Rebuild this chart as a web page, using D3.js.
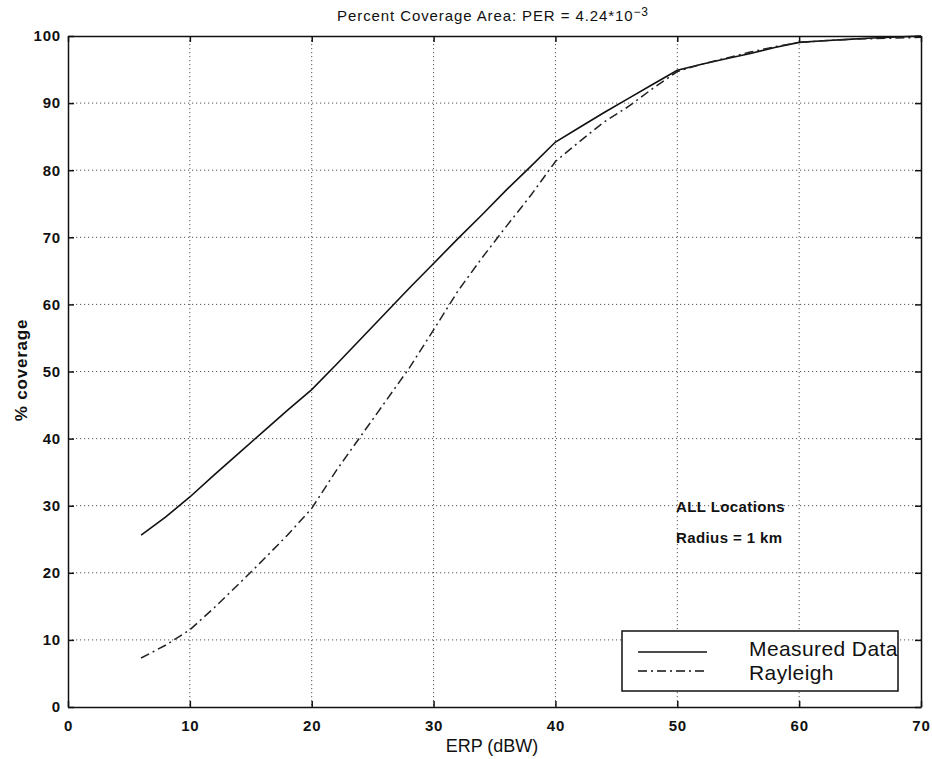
<!DOCTYPE html>
<html>
<head>
<meta charset="utf-8">
<script src="https://cdn.jsdelivr.net/npm/d3@7"></script>
<style>
  html, body { margin: 0; padding: 0; background: #fff; }
  svg { display: block; }
  text { font-family: "Liberation Sans", Arial, Helvetica, sans-serif; fill: #111; }
</style>
</head>
<body>
<svg id="chart" width="932" height="759"></svg>
<script>
// ERP (dBW) sample points and % coverage for each curve
const measuredErp = [6, 8, 10, 12, 14, 16, 18, 20, 22, 24, 26, 28, 30, 32, 34, 36, 38, 40, 42, 44, 46, 48, 50, 52, 54, 56, 58, 60, 62, 64, 66, 68, 70];
const measuredCov = [25.6, 28.3, 31.3, 34.6, 37.8, 41.0, 44.2, 47.3, 51.0, 54.8, 58.6, 62.4, 66.1, 69.8, 73.4, 77.1, 80.6, 84.2, 86.4, 88.6, 90.7, 92.8, 94.9, 95.8, 96.6, 97.4, 98.3, 99.05, 99.3, 99.5, 99.7, 99.85, 100];

const rayleighErp = [6, 8, 10, 12, 14, 16, 18, 20, 22, 24, 26, 28, 30, 32, 34, 36, 38, 40, 42, 44, 46, 48, 50, 52, 54, 56, 58, 60, 62, 64, 66, 68, 70];
const rayleighCov = [7.3, 9.2, 11.5, 14.8, 18.3, 21.9, 25.6, 29.6, 35.2, 40.3, 45.4, 50.5, 56.2, 62.0, 67.0, 71.7, 76.3, 81.3, 84.3, 87.2, 89.5, 92.2, 94.7, 95.8, 96.7, 97.6, 98.4, 99.05, 99.3, 99.5, 99.6, 99.7, 99.8];

const xTicks = [0, 10, 20, 30, 40, 50, 60, 70];
const yTicks = [0, 10, 20, 30, 40, 50, 60, 70, 80, 90, 100];

const seriesNames = ["Measured Data", "Rayleigh"];
const annotations = ["ALL Locations", "Radius = 1 km"];

const svg = d3.select("#chart");
const plotL = 68, plotR = 921, plotT = 36, plotB = 707;

const x = d3.scaleLinear().domain([0, 70]).range([plotL, plotR]);
const y = d3.scaleLinear().domain([0, 100]).range([plotB, plotT]);

// dotted grid
const grid = svg.append("g").attr("stroke", "#555").attr("stroke-width", 1).attr("stroke-dasharray", "1.2,2.8");
grid.selectAll("line.gx").data(xTicks.slice(1, -1)).join("line")
  .attr("x1", d => x(d)).attr("x2", d => x(d)).attr("y1", plotT).attr("y2", plotB);
grid.selectAll("line.gy").data(yTicks.slice(1, -1)).join("line")
  .attr("y1", d => y(d)).attr("y2", d => y(d)).attr("x1", plotL).attr("x2", plotR);

// curves
const line = d3.line().x(d => x(d[0])).y(d => y(d[1]));
svg.append("path")
  .datum(measuredErp.map((e, i) => [e, measuredCov[i]]))
  .attr("d", line).attr("fill", "none").attr("stroke", "#111").attr("stroke-width", 1.6);
svg.append("path")
  .datum(rayleighErp.map((e, i) => [e, rayleighCov[i]]))
  .attr("d", line).attr("fill", "none").attr("stroke", "#222").attr("stroke-width", 1.5)
  .attr("stroke-dasharray", "9,4,2,4");

// axes with inward ticks
const tickLen = 6;
const axB = svg.append("g").attr("transform", `translate(0,${plotB})`)
  .call(d3.axisBottom(x).tickValues(xTicks).tickSizeInner(-tickLen).tickSizeOuter(0).tickPadding(13));
const axT = svg.append("g").attr("transform", `translate(0,${plotT})`)
  .call(d3.axisTop(x).tickValues(xTicks).tickSizeInner(-tickLen).tickSizeOuter(0).tickFormat(""));
const axL = svg.append("g").attr("transform", `translate(${plotL},0)`)
  .call(d3.axisLeft(y).tickValues(yTicks).tickSizeInner(-tickLen).tickSizeOuter(0).tickPadding(7));
const axR = svg.append("g").attr("transform", `translate(${plotR},0)`)
  .call(d3.axisRight(y).tickValues(yTicks).tickSizeInner(-tickLen).tickSizeOuter(0).tickFormat(""));
[axB, axT, axL, axR].forEach(a => {
  a.select(".domain").attr("stroke", "#111").attr("stroke-width", 1.5);
  a.selectAll(".tick line").attr("stroke", "#111").attr("stroke-width", 1.5);
  a.selectAll(".tick text")
    .attr("font-family", "'Liberation Sans', Arial, sans-serif")
    .attr("font-size", 15).attr("font-weight", "bold").attr("letter-spacing", 0.8).attr("fill", "#111");
});

// title
const title = svg.append("text").attr("x", 493).attr("y", 21)
  .attr("text-anchor", "middle").attr("font-size", 15).attr("letter-spacing", 0.9);
title.append("tspan").text("Percent Coverage Area: PER = 4.24*10");
title.append("tspan").attr("dy", -5).attr("font-size", 12).text("\u22123");

// axis labels
svg.append("text").attr("x", 492).attr("y", 752).attr("text-anchor", "middle")
  .attr("font-size", 18).text("ERP (dBW)");
svg.append("text").attr("transform", "translate(27,370) rotate(-90)").attr("text-anchor", "middle")
  .attr("font-size", 17).attr("font-weight", "bold").attr("letter-spacing", 0.8).text("% coverage");

// annotations
svg.selectAll("text.note").data(annotations).join("text")
  .attr("class", "note").attr("x", 676).attr("y", (d, i) => 512 + i * 31)
  .attr("font-size", 15).attr("font-weight", "bold").attr("letter-spacing", 0.4).text(d => d);

// legend
const lg = svg.append("g");
lg.append("rect").attr("x", 622).attr("y", 631).attr("width", 276).attr("height", 60)
  .attr("fill", "#fff").attr("stroke", "#111").attr("stroke-width", 1.5);
seriesNames.forEach((name, i) => {
  const ly = 652 + i * 19;
  lg.append("line").attr("x1", 638).attr("x2", 707).attr("y1", ly).attr("y2", ly)
    .attr("stroke", "#111").attr("stroke-width", 1.5)
    .attr("stroke-dasharray", i === 0 ? null : "9,4,2,4");
  lg.append("text").attr("x", 749).attr("y", i === 0 ? 656 : 680)
    .attr("font-size", 21).attr("letter-spacing", 0.4).text(name);
});
</script>
</body>
</html>
